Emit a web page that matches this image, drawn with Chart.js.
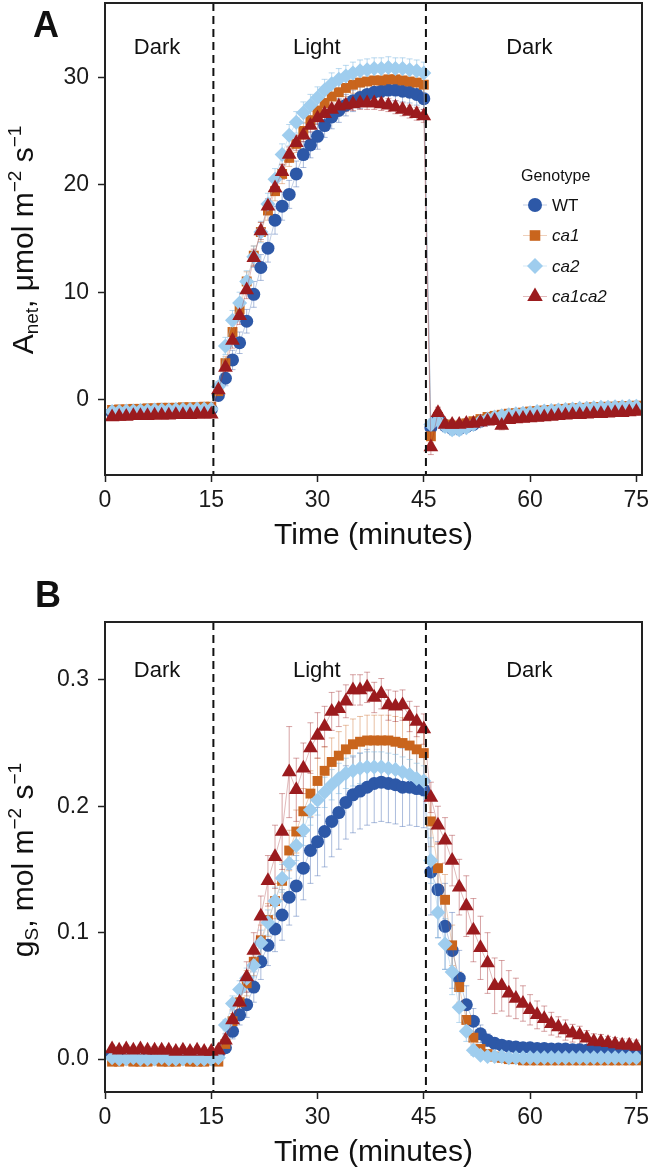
<!DOCTYPE html>
<html>
<head>
<meta charset="utf-8">
<script src="https://cdn.jsdelivr.net/npm/chart.js@4.4.1/dist/chart.umd.min.js"></script>
<style>
  html, body { margin: 0; padding: 0; background: #fff; }
  #wrap { position: relative; width: 652px; height: 1172px; }
  canvas { position: absolute; left: 0; }
</style>
</head>
<body>
<div id="wrap">
  <canvas id="chartA" width="652" height="576" style="top:0"></canvas>
  <canvas id="chartB" width="652" height="596" style="top:576px"></canvas>
</div>
<script>
// ---- data ----
const minutes = [1,2,3,4,5,6,7,8,9,10,11,12,13,14,15,16,17,18,19,20,21,22,23,24,25,26,27,28,29,30,
  31,32,33,34,35,36,37,38,39,40,41,42,43,44,45,46,47,48,49,50,51,52,53,54,55,56,57,58,59,60,
  61,62,63,64,65,66,67,68,69,70,71,72,73,74,75];

const genotypes = ["WT", "ca1", "ca2", "ca1ca2"];
const timeTicks = [0, 15, 30, 45, 60, 75];
const anetTicks = [0, 10, 20, 30];
const gsTicks = [0, 0.1, 0.2, 0.3];
const phaseLabels = ["Dark", "Light", "Dark"];
const phaseCentres = [7.35, 29.9, 59.9];
const phaseSwitches = [15.3, 45.3];

// A: net assimilation
const anetWT = [-1.2,-1.2,-1.15,-1.15,-1.1,-1.1,-1.05,-1.05,-1.0,-1.0,-1.0,-0.95,-0.95,-0.95,-0.9,
  0.4,2.0,3.7,5.3,7.3,9.8,12.3,14.1,16.7,18.0,19.1,21.0,22.8,23.7,24.5,
  25.5,26.3,26.9,27.4,27.8,28.1,28.4,28.6,28.7,28.8,28.8,28.7,28.6,28.4,28.0,
  -2.6,-1.8,-2.4,-2.7,-2.7,-2.5,-2.3,-2.0,-1.8,-1.7,-1.6,-1.5,-1.45,-1.4,-1.35,
  -1.3,-1.25,-1.2,-1.15,-1.1,-1.05,-1.0,-1.0,-0.95,-0.9,-0.9,-0.85,-0.85,-0.8,-0.8];
const anetCa1 = [-0.95,-0.9,-0.9,-0.85,-0.85,-0.8,-0.8,-0.75,-0.75,-0.75,-0.7,-0.7,-0.7,-0.65,-0.65,
  0.8,3.4,6.3,8.4,11.0,13.4,15.6,17.6,19.4,21.0,22.5,23.8,25.0,26.0,26.9,
  27.6,28.2,28.6,29.0,29.3,29.5,29.6,29.7,29.7,29.8,29.8,29.7,29.6,29.5,29.3,
  -3.4,-1.6,-2.3,-2.5,-2.4,-2.2,-2.0,-1.8,-1.6,-1.5,-1.4,-1.3,-1.25,-1.2,-1.1,
  -1.05,-1.0,-0.95,-0.9,-0.85,-0.8,-0.8,-0.75,-0.7,-0.7,-0.65,-0.65,-0.6,-0.6,-0.55];
const anetCa2 = [-1.1,-1.1,-1.05,-1.05,-1.0,-1.0,-0.95,-0.95,-0.95,-0.9,-0.9,-0.9,-0.85,-0.85,-0.85,
  1.2,5.0,7.4,9.0,11.0,13.3,15.6,18.2,20.5,22.8,24.6,25.8,26.7,27.4,28.1,
  28.8,29.4,29.8,30.1,30.4,30.6,30.7,30.8,30.8,30.9,30.8,30.8,30.7,30.6,30.4,
  -2.3,-1.9,-2.5,-2.8,-2.8,-2.6,-2.3,-2.0,-1.8,-1.6,-1.5,-1.4,-1.3,-1.25,-1.2,
  -1.1,-1.05,-1.0,-0.95,-0.9,-0.85,-0.8,-0.8,-0.75,-0.7,-0.7,-0.65,-0.65,-0.6,-0.6];
const anetCa1ca2 = [-1.6,-1.55,-1.55,-1.5,-1.5,-1.5,-1.45,-1.45,-1.45,-1.4,-1.4,-1.4,-1.35,-1.35,-1.35,
  0.9,3.0,5.5,7.8,10.2,13.2,15.7,18.0,19.7,21.2,22.8,23.9,24.6,25.5,26.2,
  26.6,27.0,27.3,27.4,27.5,27.6,27.6,27.6,27.5,27.4,27.2,27.0,26.8,26.6,26.4,
  -4.4,-1.2,-2.3,-2.3,-2.3,-2.2,-2.2,-2.1,-2.0,-1.95,-2.4,-1.85,-1.8,-1.75,-1.7,
  -1.65,-1.6,-1.55,-1.5,-1.45,-1.4,-1.4,-1.35,-1.3,-1.3,-1.25,-1.2,-1.2,-1.15,-1.1];

const anetErrWT = [0.3,0.3,0.3,0.3,0.3,0.3,0.3,0.3,0.3,0.3,0.3,0.3,0.3,0.3,0.3,
  0.4,0.7,0.9,1.0,1.1,1.2,1.2,1.3,1.3,1.3,1.3,1.2,1.2,1.2,1.2,
  1.1,1.1,1.1,1.0,1.0,1.0,1.0,1.0,1.0,1.0,1.0,1.0,1.0,1.0,1.0,
  0.6,0.5,0.5,0.5,0.5,0.4,0.4,0.4,0.4,0.3,0.3,0.3,0.3,0.3,0.3,
  0.3,0.3,0.3,0.3,0.3,0.3,0.3,0.3,0.3,0.3,0.3,0.3,0.3,0.3,0.3];
const anetErrCa1 = [0.3,0.3,0.3,0.3,0.3,0.3,0.3,0.3,0.3,0.3,0.3,0.3,0.3,0.3,0.3,
  0.4,0.6,0.8,0.8,0.9,0.9,0.9,0.9,0.9,0.9,0.8,0.8,0.8,0.8,0.8,
  0.8,0.8,0.8,0.8,0.8,0.8,0.8,0.8,0.8,0.8,0.8,0.8,0.8,0.8,0.8,
  0.6,0.5,0.4,0.4,0.4,0.4,0.3,0.3,0.3,0.3,0.3,0.3,0.3,0.3,0.3,
  0.3,0.3,0.3,0.3,0.3,0.3,0.3,0.3,0.3,0.3,0.3,0.3,0.3,0.3,0.3];
const anetErrCa2 = [0.3,0.3,0.3,0.3,0.3,0.3,0.3,0.3,0.3,0.3,0.3,0.3,0.3,0.3,0.3,
  0.5,0.8,0.9,1.0,1.0,1.0,1.0,1.0,1.0,1.0,1.0,1.0,1.0,1.0,1.0,
  1.0,1.0,1.0,1.0,1.0,1.0,1.0,1.0,1.0,1.0,1.0,1.0,1.0,1.0,1.0,
  0.5,0.5,0.5,0.5,0.5,0.4,0.4,0.4,0.3,0.3,0.3,0.3,0.3,0.3,0.3,
  0.3,0.3,0.3,0.3,0.3,0.3,0.3,0.3,0.3,0.3,0.3,0.3,0.3,0.3,0.3];
const anetErrCa1ca2 = [0.3,0.3,0.3,0.3,0.3,0.3,0.3,0.3,0.3,0.3,0.3,0.3,0.3,0.3,0.3,
  0.4,0.6,0.7,0.8,0.8,0.8,0.8,0.7,0.7,0.7,0.7,0.7,0.6,0.6,0.6,
  0.6,0.6,0.6,0.6,0.6,0.6,0.6,0.6,0.6,0.6,0.6,0.6,0.6,0.6,0.6,
  0.7,0.5,0.4,0.4,0.4,0.4,0.4,0.4,0.3,0.3,0.4,0.3,0.3,0.3,0.3,
  0.3,0.3,0.3,0.3,0.3,0.3,0.3,0.3,0.3,0.3,0.3,0.3,0.3,0.3,0.3];

// B: stomatal conductance
const gsWT = [0.004,0.004,0.004,0.003,0.003,0.003,0.003,0.003,0.003,0.003,0.003,0.003,0.003,0.003,0.003,0.004,
  0.009,0.022,0.035,0.043,0.057,0.077,0.09,0.103,0.114,0.128,0.137,0.151,0.165,0.172,
  0.18,0.188,0.195,0.203,0.209,0.212,0.215,0.218,0.219,0.218,0.217,0.215,0.215,0.214,0.213,
  0.148,0.134,0.105,0.086,0.064,0.043,0.03,0.02,0.015,0.0125,0.011,0.01,0.0095,0.009,0.009,
  0.0085,0.0085,0.008,0.008,0.008,0.0075,0.0075,0.007,0.007,0.0065,0.0065,0.006,0.006,0.0055,0.005];
const gsCa1 = [-0.002,-0.002,-0.001,-0.002,-0.002,-0.002,-0.001,-0.002,-0.002,-0.002,-0.001,-0.002,-0.002,-0.002,-0.001,-0.002,
  0.012,0.03,0.045,0.06,0.077,0.094,0.11,0.125,0.141,0.165,0.18,0.196,0.21,0.22,
  0.228,0.235,0.24,0.245,0.249,0.251,0.252,0.252,0.252,0.252,0.251,0.25,0.248,0.245,0.242,
  0.188,0.151,0.126,0.09,0.057,0.031,0.017,0.008,0.004,0.002,0.001,0.0,0.0,-0.001,-0.001,
  -0.001,-0.001,-0.001,-0.001,-0.001,-0.001,-0.001,-0.001,-0.001,-0.001,-0.001,-0.001,-0.001,-0.001,-0.001];
const gsCa2 = [0.001,0.0,0.0,0.001,0.0,0.0,0.0,0.001,0.0,0.0,0.0,0.001,0.0,0.0,0.0,0.001,
  0.027,0.044,0.055,0.064,0.074,0.092,0.108,0.125,0.143,0.155,0.169,0.181,0.197,0.205,
  0.211,0.217,0.222,0.226,0.228,0.23,0.231,0.231,0.231,0.23,0.229,0.227,0.225,0.222,0.22,
  0.157,0.116,0.091,0.069,0.041,0.022,0.007,0.003,0.002,0.002,0.002,0.001,0.001,0.001,0.001,
  0.001,0.001,0.001,0.001,0.001,0.001,0.001,0.001,0.001,0.001,0.001,0.001,0.001,0.001,0.001];
const gsCa1ca2 = [0.008,0.007,0.008,0.007,0.008,0.007,0.007,0.007,0.007,0.006,0.007,0.006,0.007,0.006,0.006,0.007,
  0.015,0.031,0.045,0.065,0.086,0.113,0.141,0.16,0.18,0.227,0.213,0.23,0.246,0.256,
  0.263,0.275,0.277,0.283,0.292,0.292,0.294,0.286,0.289,0.28,0.279,0.28,0.271,0.267,0.261,
  0.207,0.185,0.173,0.157,0.136,0.121,0.102,0.088,0.076,0.058,0.058,0.052,0.048,0.044,0.039,
  0.035,0.032,0.028,0.0255,0.023,0.0205,0.019,0.0166,0.014,0.0135,0.013,0.012,0.011,0.011,0.01];

const gsErrWT = [0.002,0.002,0.002,0.002,0.002,0.002,0.002,0.002,0.002,0.002,0.002,0.002,0.002,0.002,0.002,0.002,
  0.004,0.006,0.008,0.01,0.012,0.014,0.016,0.018,0.02,0.022,0.024,0.025,0.026,0.027,
  0.028,0.028,0.029,0.029,0.03,0.03,0.03,0.031,0.031,0.031,0.031,0.031,0.03,0.03,0.03,
  0.034,0.038,0.034,0.03,0.022,0.015,0.01,0.007,0.005,0.004,0.003,0.003,0.003,0.003,0.003,
  0.003,0.003,0.003,0.003,0.003,0.003,0.003,0.003,0.003,0.003,0.003,0.003,0.003,0.003,0.003];
const gsErrCa1 = [0.002,0.002,0.002,0.002,0.002,0.002,0.002,0.002,0.002,0.002,0.002,0.002,0.002,0.002,0.002,0.002,
  0.004,0.006,0.008,0.01,0.011,0.012,0.013,0.014,0.015,0.016,0.017,0.018,0.018,0.018,
  0.019,0.019,0.019,0.019,0.02,0.02,0.02,0.02,0.02,0.02,0.02,0.02,0.02,0.02,0.02,
  0.02,0.02,0.02,0.016,0.012,0.008,0.005,0.003,0.002,0.002,0.002,0.002,0.002,0.002,0.002,
  0.002,0.002,0.002,0.002,0.002,0.002,0.002,0.002,0.002,0.002,0.002,0.002,0.002,0.002,0.002];
const gsErrCa2 = [0.002,0.002,0.002,0.002,0.002,0.002,0.002,0.002,0.002,0.002,0.002,0.002,0.002,0.002,0.002,0.002,
  0.004,0.006,0.007,0.008,0.009,0.01,0.01,0.011,0.011,0.012,0.012,0.012,0.012,0.012,
  0.012,0.012,0.012,0.012,0.012,0.012,0.012,0.012,0.012,0.012,0.012,0.012,0.012,0.012,0.012,
  0.018,0.02,0.02,0.018,0.012,0.008,0.004,0.002,0.002,0.002,0.002,0.002,0.002,0.002,0.002,
  0.002,0.002,0.002,0.002,0.002,0.002,0.002,0.002,0.002,0.002,0.002,0.002,0.002,0.002,0.002];
const gsErrCa1ca2 = [0.003,0.003,0.003,0.003,0.003,0.003,0.003,0.003,0.003,0.003,0.003,0.003,0.003,0.003,0.003,0.003,
  0.005,0.008,0.01,0.012,0.014,0.016,0.02,0.025,0.03,0.036,0.025,0.02,0.02,0.018,
  0.016,0.015,0.014,0.013,0.012,0.012,0.012,0.012,0.012,0.012,0.012,0.012,0.012,0.012,0.012,
  0.012,0.015,0.018,0.02,0.022,0.024,0.025,0.025,0.024,0.022,0.02,0.018,0.016,0.014,0.012,
  0.011,0.01,0.009,0.008,0.008,0.007,0.007,0.006,0.006,0.006,0.005,0.005,0.005,0.005,0.005];

// ---- styling ----
const FONT = "'Liberation Sans', Arial, Helvetica, sans-serif";
const colours = ["#2d58a7", "#c9651d", "#9fcdee", "#9b1b1e"];
const faintLines = ["rgba(45,88,167,0.3)", "rgba(201,101,29,0.3)", "rgba(159,205,238,0.45)", "rgba(155,27,30,0.3)"];
const faintBars = ["rgba(45,88,167,0.4)", "rgba(201,101,29,0.4)", "rgba(130,185,225,0.55)", "rgba(155,27,30,0.4)"];
const shapes = ["circle", "rect", "rectRot", "triangle"];
const radii = [6.5, 7, 7.5, 8.5];

function toPoints(values) {
  return minutes.map((t, i) => ({ x: t, y: values[i] }));
}

function makeDatasets(seriesList, errList) {
  return seriesList.map((vals, i) => ({
    label: genotypes[i],
    data: toPoints(vals),
    errors: errList[i],
    errorColor: faintBars[i],
    showLine: true,
    borderColor: faintLines[i],
    borderWidth: 1,
    backgroundColor: colours[i],
    pointBackgroundColor: colours[i],
    pointBorderColor: colours[i],
    pointBorderWidth: 0,
    pointStyle: shapes[i],
    pointRadius: radii[i],
    pointHoverRadius: radii[i],
    order: 4 - i,
  }));
}

function drawMarker(ctx, style, x, y, r, colour) {
  ctx.fillStyle = colour;
  ctx.beginPath();
  if (style === "circle") {
    ctx.arc(x, y, r, 0, Math.PI * 2);
  } else if (style === "rect") {
    const s = r * Math.SQRT1_2;
    ctx.rect(x - s, y - s, 2 * s, 2 * s);
  } else if (style === "rectRot") {
    ctx.moveTo(x, y - r); ctx.lineTo(x + r, y); ctx.lineTo(x, y + r); ctx.lineTo(x - r, y);
    ctx.closePath();
  } else {
    ctx.moveTo(x, y - r);
    ctx.lineTo(x + r * 0.866, y + r * 0.5);
    ctx.lineTo(x - r * 0.866, y + r * 0.5);
    ctx.closePath();
  }
  ctx.fill();
}

// text with sub/superscripts, rotated to run bottom-to-top
function drawRotatedRich(ctx, parts, baseX, centreY, size, smallSize) {
  ctx.save();
  ctx.translate(baseX, centreY);
  ctx.rotate(-Math.PI / 2);
  ctx.fillStyle = "#111";
  ctx.textBaseline = "alphabetic";
  ctx.textAlign = "left";
  let total = 0;
  parts.forEach(([txt, kind]) => {
    ctx.font = `${kind ? smallSize : size}px ${FONT}`;
    total += ctx.measureText(txt).width;
  });
  let x = -total / 2;
  parts.forEach(([txt, kind]) => {
    ctx.font = `${kind ? smallSize : size}px ${FONT}`;
    const dy = kind === "sub" ? 5 : kind === "sup" ? -12 : 0;
    ctx.fillText(txt, x, dy);
    x += ctx.measureText(txt).width;
  });
  ctx.restore();
}

const errorBarPlugin = {
  id: "errorBars",
  beforeDatasetsDraw(chart) {
    const { ctx, chartArea } = chart;
    const yScale = chart.scales.y;
    ctx.save();
    ctx.beginPath();
    ctx.rect(chartArea.left, chartArea.top, chartArea.right - chartArea.left, chartArea.bottom - chartArea.top);
    ctx.clip();
    ctx.lineWidth = 1;
    chart.data.datasets.forEach((ds, di) => {
      const meta = chart.getDatasetMeta(di);
      ctx.strokeStyle = ds.errorColor;
      meta.data.forEach((pt, i) => {
        const v = ds.data[i].y;
        const e = ds.errors[i];
        const yTop = yScale.getPixelForValue(v + e);
        const yBot = yScale.getPixelForValue(v - e);
        ctx.beginPath();
        ctx.moveTo(pt.x, yTop); ctx.lineTo(pt.x, yBot);
        ctx.moveTo(pt.x - 3, yTop); ctx.lineTo(pt.x + 3, yTop);
        ctx.moveTo(pt.x - 3, yBot); ctx.lineTo(pt.x + 3, yBot);
        ctx.stroke();
      });
    });
    ctx.restore();
  },
};

const decorPlugin = {
  id: "panelDecor",
  afterDatasetsDraw(chart, args, opts) {
    const { ctx, chartArea } = chart;
    const xScale = chart.scales.x;
    // light switch lines
    ctx.save();
    ctx.strokeStyle = "#111";
    ctx.lineWidth = 2;
    ctx.setLineDash([8, 5]);
    phaseSwitches.forEach((t) => {
      const x = xScale.getPixelForValue(t);
      ctx.beginPath();
      ctx.moveTo(x, chartArea.top);
      ctx.lineTo(x, chartArea.bottom);
      ctx.stroke();
    });
    ctx.restore();
  },
  afterDraw(chart, args, opts) {
    const { ctx, chartArea } = chart;
    const xScale = chart.scales.x;
    ctx.save();
    // panel box
    ctx.strokeStyle = "#222";
    ctx.lineWidth = 2;
    ctx.strokeRect(chartArea.left, chartArea.top, chartArea.right - chartArea.left, chartArea.bottom - chartArea.top);

    // phase labels
    ctx.fillStyle = "#111";
    ctx.font = `22px ${FONT}`;
    ctx.textAlign = "center";
    ctx.textBaseline = "alphabetic";
    phaseLabels.forEach((lab, i) => {
      ctx.fillText(lab, xScale.getPixelForValue(phaseCentres[i]), chartArea.top + opts.phaseOffset);
    });

    // panel letter
    ctx.textAlign = "left";
    ctx.font = `bold 36px ${FONT}`;
    ctx.fillText(opts.letter, opts.letterX, opts.letterY);

    // x title
    ctx.font = `30px ${FONT}`;
    ctx.textAlign = "center";
    ctx.fillText("Time (minutes)", (chartArea.left + chartArea.right) / 2, chartArea.bottom + 69);
    ctx.restore();

    // y title
    drawRotatedRich(ctx, opts.yTitle, 33, opts.yTitleCentre, 30, 19);

    // legend
    if (opts.legend) {
      ctx.save();
      ctx.fillStyle = "#111";
      ctx.textAlign = "left";
      ctx.textBaseline = "alphabetic";
      ctx.font = `16px ${FONT}`;
      ctx.fillText("Genotype", 521, 181);
      genotypes.forEach((g, i) => {
        const y = 205 + i * 30.5;
        ctx.strokeStyle = faintLines[i];
        ctx.lineWidth = 1;
        ctx.beginPath();
        ctx.moveTo(523, y);
        ctx.lineTo(547, y);
        ctx.stroke();
        drawMarker(ctx, shapes[i], 535, y, radii[i] + 0.5, colours[i]);
        ctx.fillStyle = "#111";
        ctx.font = `${i === 0 ? "" : "italic "}17px ${FONT}`;
        ctx.textBaseline = "middle";
        ctx.fillText(g, 552, y + 1);
      });
      ctx.restore();
    }
  },
};

function noScalePadding(s) {
  s.paddingTop = 0;
  s.paddingBottom = 0;
  s.paddingLeft = 0;
  s.paddingRight = 0;
}

function makeChart(canvasId, datasets, cfg) {
  return new Chart(document.getElementById(canvasId), {
    type: "scatter",
    data: { datasets },
    plugins: [errorBarPlugin, decorPlugin],
    options: {
      responsive: false,
      animation: false,
      events: [],
      layout: { autoPadding: false, padding: { top: cfg.padTop, right: 10, left: 0, bottom: 0 } },
      plugins: {
        legend: { display: false },
        tooltip: { enabled: false },
        panelDecor: cfg.decor,
      },
      scales: {
        x: {
          type: "linear",
          min: 0,
          max: 75.8,
          afterFit: (s) => { s.height = cfg.xHeight; noScalePadding(s); },
          afterBuildTicks: (s) => { s.ticks = timeTicks.map((v) => ({ value: v })); },
          grid: { display: true, drawOnChartArea: false, drawTicks: true, tickLength: 7, tickWidth: 1.5, tickColor: "#222" },
          border: { display: true, color: "#222", width: 2 },
          ticks: { font: { family: FONT, size: 23 }, color: "#1a1a1a", padding: 5, maxRotation: 0,
            callback: (v) => String(v) },
        },
        y: {
          type: "linear",
          min: cfg.yMin,
          max: cfg.yMax,
          afterFit: (s) => { s.width = 105; noScalePadding(s); },
          afterBuildTicks: (s) => { s.ticks = cfg.yTicks.map((v) => ({ value: v })); },
          grid: { display: true, drawOnChartArea: false, drawTicks: true, tickLength: 7, tickWidth: 1.5, tickColor: "#222" },
          border: { display: true, color: "#222", width: 2 },
          ticks: { font: { family: FONT, size: 23 }, color: "#1a1a1a", padding: 9,
            callback: cfg.yFormat },
        },
      },
    },
  });
}

makeChart("chartA",
  makeDatasets([anetWT, anetCa1, anetCa2, anetCa1ca2], [anetErrWT, anetErrCa1, anetErrCa2, anetErrCa1ca2]),
  {
    padTop: 3, xHeight: 101, yMin: -7, yMax: 36.9, yTicks: anetTicks,
    yFormat: (v) => String(v),
    decor: {
      letter: "A", letterX: 33, letterY: 37, phaseOffset: 51, legend: true, yTitleCentre: 240,
      yTitle: [["A", ""], ["net", "sub"], [", \u03bcmol m", ""], ["\u22122", "sup"], [" s", ""], ["\u22121", "sup"]],
    },
  });

makeChart("chartB",
  makeDatasets([gsWT, gsCa1, gsCa2, gsCa1ca2], [gsErrWT, gsErrCa1, gsErrCa2, gsErrCa1ca2]),
  {
    padTop: 46, xHeight: 80, yMin: -0.026, yMax: 0.3457, yTicks: gsTicks,
    yFormat: (v) => Number(v).toFixed(1),
    decor: {
      letter: "B", letterX: 35, letterY: 31, phaseOffset: 55, legend: false, yTitleCentre: 284,
      yTitle: [["g", ""], ["S", "sub"], [", mol m", ""], ["\u22122", "sup"], [" s", ""], ["\u22121", "sup"]],
    },
  });
</script>
</body>
</html>
